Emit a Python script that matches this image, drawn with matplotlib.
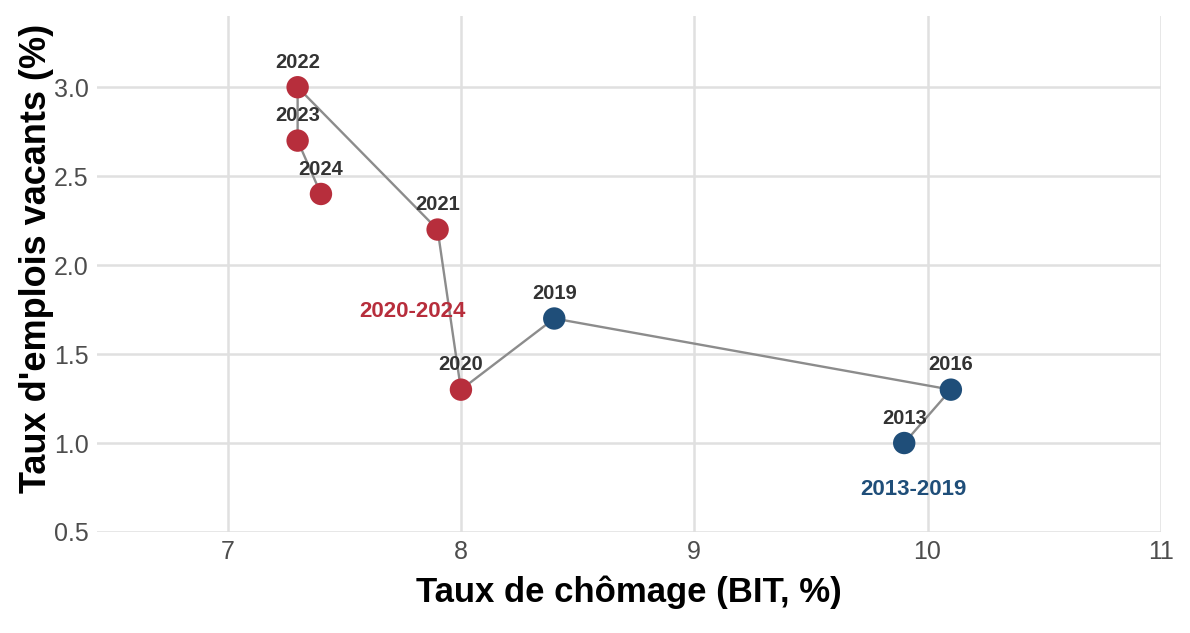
import matplotlib
matplotlib.use("Agg")
import matplotlib.pyplot as plt

# Data (path order)
years = ["2013", "2016", "2019", "2020", "2021", "2022", "2023", "2024"]
chomage = [9.9, 10.1, 8.4, 8.0, 7.9, 7.3, 7.3, 7.4]
vacants = [1.0, 1.3, 1.7, 1.3, 2.2, 3.0, 2.7, 2.4]
periode = ["2013-2019", "2013-2019", "2013-2019",
           "2020-2024", "2020-2024", "2020-2024", "2020-2024", "2020-2024"]

periode_labels = ["2013-2019", "2020-2024"]
periode_label_x = [9.94, 7.79]
periode_label_y = [0.74, 1.74]

colors = {"2013-2019": "#1F4E79", "2020-2024": "#B72E3C"}

plt.rcParams['font.family'] = ['Liberation Sans', 'DejaVu Sans']

fig = plt.figure(figsize=(11.9, 6.33), dpi=100)
ax = fig.add_axes([0.0815, 0.1596, 0.894, 0.815])

# connecting path
ax.plot(chomage, vacants, color="#8C8C8C", lw=1.7, zorder=2)

# points
ax.scatter(chomage, vacants, s=260, c=[colors[p] for p in periode],
           zorder=3, linewidths=0)

# year labels
for x, y, yr in zip(chomage, vacants, years):
    ax.annotate(yr, (x, y), xytext=(0, 11), textcoords="offset points",
                ha="center", va="bottom", fontsize=14.5, fontweight="bold",
                color="#333333", zorder=4)

# period labels
for lab, x, y in zip(periode_labels, periode_label_x, periode_label_y):
    ax.text(x, y, lab, ha="center", va="center", fontsize=16,
            fontweight="bold", color=colors[lab])

ax.set_xlim(6.44, 11.0)
ax.set_ylim(0.5, 3.4)
ax.set_xticks([7, 8, 9, 10, 11])
ax.set_yticks([0.5, 1.0, 1.5, 2.0, 2.5, 3.0])
ax.set_yticklabels(["0.5", "1.0", "1.5", "2.0", "2.5", "3.0"])
ax.grid(True, color="#E0E0E0", lw=1.8)
ax.set_axisbelow(True)
for s in ax.spines.values():
    s.set_visible(False)
ax.tick_params(length=0, labelsize=18, labelcolor="#4D4D4D", pad=6)

ax.set_xlabel("Taux de chômage (BIT, %)", fontsize=25, fontweight="bold", labelpad=8)
ax.set_ylabel("Taux d'emplois vacants (%)", fontsize=26, fontweight="bold")
ax.yaxis.set_label_coords(-0.04, 0.53)

fig.savefig("out.png", dpi=100)
